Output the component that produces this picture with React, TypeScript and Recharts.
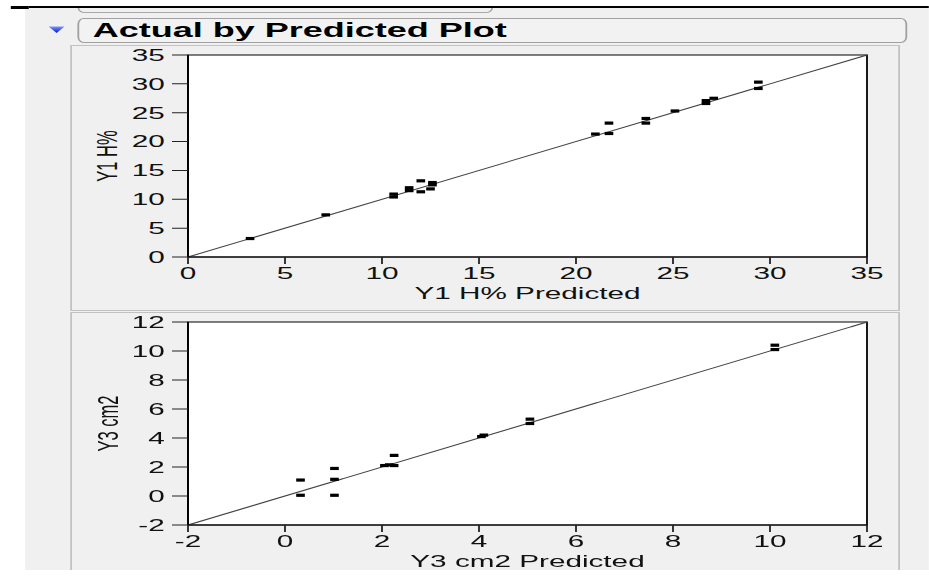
import React from 'react';
import {
  ScatterChart,
  Scatter,
  XAxis,
  YAxis,
  CartesianGrid,
  ReferenceLine,
  ReferenceArea,
} from 'recharts';

// Y1 H%: predicted vs actual
const y1Predicted = [3.2, 7.1, 10.6, 10.6, 11.4, 11.4, 12.0, 12.0, 12.6, 12.6, 12.5, 21.0, 21.7, 21.7, 23.6, 23.6, 25.1, 26.7, 26.7, 27.1, 29.4, 29.4];
const y1Actual = [3.2, 7.3, 10.9, 10.4, 11.5, 12.0, 13.2, 11.3, 12.9, 12.5, 11.8, 21.3, 21.4, 23.2, 24.0, 23.2, 25.3, 26.6, 27.1, 27.5, 29.2, 30.3];
const y1Ticks = [0, 5, 10, 15, 20, 25, 30, 35];

// Y3 cm2: predicted vs actual
const y3Predicted = [0.32, 0.32, 1.02, 1.02, 1.02, 2.05, 2.15, 2.25, 2.25, 4.05, 4.1, 5.05, 5.05, 10.1, 10.1];
const y3Actual = [1.1, 0.05, 1.9, 1.15, 0.05, 2.1, 2.15, 2.1, 2.8, 4.1, 4.2, 5.3, 5.0, 10.4, 10.1];
const y3Ticks = [-2, 0, 2, 4, 6, 8, 10, 12];

const toPoints = (xs: number[], ys: number[]) => xs.map((x, i) => ({ x, y: ys[i] }));

// the report is drawn in narrow units and widened horizontally
const S = 1.8;
const W = 929 / S;
const FONT = 'Arial, "Liberation Sans", sans-serif';

const Marker = (props: any) => {
  const { cx, cy } = props;
  if (cx == null || cy == null) return null;
  return <rect x={cx - 2.4} y={cy - 1.6} width={4.8} height={3.2} fill="#000" />;
};

const tickStyle = { fontSize: 16.5, fill: '#111', fontFamily: FONT };

type PlotProps = {
  top: number;
  height: number;
  axisHeight: number;
  data: { x: number; y: number }[];
  ticks: number[];
  yTitle: string;
  xTitle: string;
};

function FitPlot({ top, height, axisHeight, data, ticks, yTitle, xTitle }: PlotProps) {
  const lo = ticks[0];
  const hi = ticks[ticks.length - 1];
  const plotLeft = 188 / S;
  const plotRight = 867 / S;
  return (
    <div style={{ position: 'absolute', left: 0, top, width: W, height }}>
      <ScatterChart
        width={W}
        height={height}
        margin={{ top: 10, right: W - plotRight, bottom: 0, left: 0 }}
      >
        <CartesianGrid fill="#fff" stroke="none" />
        <XAxis
          type="number"
          dataKey="x"
          domain={[lo, hi]}
          ticks={ticks}
          interval={0}
          height={axisHeight}
          tickSize={7}
          tickMargin={3}
          stroke="#000"
          tick={tickStyle}
          tickLine={{ stroke: '#222' }}
          label={(p: any) => {
            const vb = p.viewBox || {};
            return (
              <text
                x={vb.x + vb.width / 2}
                y={vb.y + 42}
                textAnchor="middle"
                fontSize={16.5}
                fontFamily={FONT}
                fill="#111"
              >
                {xTitle}
              </text>
            );
          }}
        />
        <YAxis
          type="number"
          dataKey="y"
          domain={[lo, hi]}
          ticks={ticks}
          interval={0}
          width={plotLeft}
          tickSize={8.9}
          tickMargin={4}
          stroke="#000"
          tick={tickStyle}
          tickLine={{ stroke: '#222' }}
          label={(p: any) => {
            const vb = p.viewBox || {};
            const cx = 107 / S;
            const cy = vb.y + vb.height / 2;
            return (
              <text
                x={cx}
                y={cy}
                transform={`rotate(-90 ${cx} ${cy})`}
                textAnchor="middle"
                dominantBaseline="central"
                fontSize={16.5}
                fontFamily={FONT}
                fill="#111"
              >
                {yTitle}
              </text>
            );
          }}
        />
        <ReferenceArea x1={lo} x2={hi} y1={lo} y2={hi} fill="none" fillOpacity={0} stroke="#000" strokeWidth={1} />
        <ReferenceLine segment={[{ x: lo, y: lo }, { x: hi, y: hi }]} stroke="#444" strokeWidth={1} />
        <Scatter data={data} shape={Marker} isAnimationActive={false} />
      </ScatterChart>
    </div>
  );
}

export default function App() {
  return (
    <div
      style={{
        position: 'absolute',
        left: 0,
        top: 0,
        width: 929,
        height: 587,
        background: '#fff',
        overflow: 'hidden',
      }}
    >
      <div
        style={{
          position: 'absolute',
          left: 0,
          top: 0,
          width: W,
          height: 587,
          transform: `scaleX(${S})`,
          transformOrigin: '0 0',
        }}
      >
        {/* report background */}
        <div
          style={{
            position: 'absolute',
            left: 26 / S,
            top: 8,
            width: W - 26 / S,
            height: 562,
            background: '#f0f0f0',
            overflow: 'hidden',
          }}
        >
          {/* outline box of the preceding section */}
          <div
            style={{
              position: 'absolute',
              left: (77 - 26) / S,
              top: -20,
              width: (493 - 77) / S,
              height: 25,
              border: '1px solid #a8a8a8',
              borderRadius: '3.5px / 6px',
              boxSizing: 'border-box',
            }}
          />
          {/* section header */}
          <div
            style={{
              position: 'absolute',
              left: (77 - 26) / S,
              top: 10,
              width: (908 - 77) / S,
              height: 25,
              border: '1px solid #a0a0a0',
              borderRadius: '3.5px / 6px',
              boxSizing: 'border-box',
              background: '#f2f2f2',
            }}
          >
            <span
              style={{
                position: 'absolute',
                left: (92 - 78) / S,
                top: 0,
                lineHeight: '23px',
                fontFamily: FONT,
                fontWeight: 'bold',
                fontSize: 20,
                color: '#000',
                whiteSpace: 'nowrap',
              }}
            >
              Actual by Predicted Plot
            </span>
          </div>
          <svg
            style={{ position: 'absolute', left: (48 - 26) / S, top: 18 }}
            width={16 / S}
            height={8}
            viewBox={`0 0 ${16 / S} 8`}
          >
            <defs>
              <linearGradient id="disc" x1="0" y1="0" x2="0" y2="1">
                <stop offset="0" stopColor="#7b95ff" />
                <stop offset="1" stopColor="#0018d0" />
              </linearGradient>
            </defs>
            <polygon points={`0,0.5 ${16 / S},0.5 ${8 / S},7`} fill="url(#disc)" />
          </svg>
          {/* two plot panels */}
          <div
            style={{
              position: 'absolute',
              left: (71 - 26) / S,
              top: 45 - 8,
              width: (900 - 71) / S,
              height: 266,
              border: '1px solid #c2c2c2',
              boxSizing: 'border-box',
            }}
          />
          <div
            style={{
              position: 'absolute',
              left: (71 - 26) / S,
              top: 312 - 8,
              width: (900 - 71) / S,
              height: 280,
              border: '1px solid #c2c2c2',
              boxSizing: 'border-box',
            }}
          />
        </div>
        {/* top rule */}
        <div style={{ position: 'absolute', left: 11 / S, top: 5.5, width: 18 / S, height: 3, background: '#000' }} />
        <div style={{ position: 'absolute', left: 29 / S, top: 6, width: W - 29 / S, height: 2, background: '#000' }} />

        <FitPlot
          top={45}
          height={266}
          axisHeight={54}
          data={toPoints(y1Predicted, y1Actual)}
          ticks={y1Ticks}
          yTitle="Y1 H%"
          xTitle="Y1 H% Predicted"
        />
        <FitPlot
          top={312}
          height={268}
          axisHeight={55}
          data={toPoints(y3Predicted, y3Actual)}
          ticks={y3Ticks}
          yTitle="Y3 cm2"
          xTitle="Y3 cm2 Predicted"
        />
      </div>
    </div>
  );
}
